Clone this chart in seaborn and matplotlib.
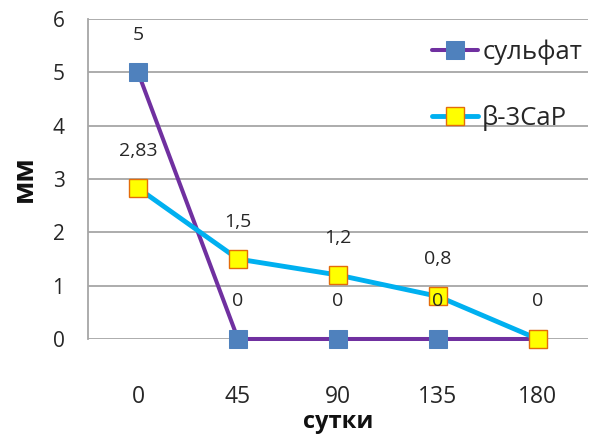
import matplotlib
matplotlib.use("Agg")
import matplotlib.pyplot as plt
import seaborn as sns
import pandas as pd

days = ["0", "45", "90", "135", "180"]
sulfate = [5, 0, 0, 0, 0]
tcp = [2.83, 1.5, 1.2, 0.8, 0]
sulfate_labels = ["5", "0", "0", "0", "0"]
tcp_labels = ["2,83", "1,5", "1,2", "0,8", ""]
series_names = ["сульфат", "β-3CaP"]
yticks = [0, 1, 2, 3, 4, 5, 6]

sns.set_theme(style="white")
plt.rcParams['font.family'] = ['Open Sans', 'DejaVu Sans']

fig = plt.figure(figsize=(5.95, 4.36), dpi=100)
ax = fig.add_axes([0.148, 0.2225, 0.84, 0.7335])

df = pd.DataFrame({"day": days, "sulfate": sulfate, "tcp": tcp})

sns.lineplot(data=df, x="day", y="sulfate", ax=ax, color="#7030A0", linewidth=2.9,
             marker="s", markersize=12.5, markerfacecolor="#4F81BD",
             markeredgecolor="#4F81BD", label=series_names[0], zorder=3)
sns.lineplot(data=df, x="day", y="tcp", ax=ax, color="#00B0F0", linewidth=3.5,
             marker="s", markersize=12.5, markerfacecolor="#FFFF00",
             markeredgecolor="#E46C0A", markeredgewidth=1, label=series_names[1], zorder=4)
for ln in ax.lines:
    ln.set_clip_on(False)

for i, (v, t) in enumerate(zip(sulfate, sulfate_labels)):
    if t:
        ax.annotate(t, (i, v), xytext=(0, 27), textcoords="offset points",
                    ha="center", va="center", fontsize=14, color="#262626", zorder=6)
for i, (v, t) in enumerate(zip(tcp, tcp_labels)):
    if t:
        ax.annotate(t, (i, v), xytext=(0, 27), textcoords="offset points",
                    ha="center", va="center", fontsize=14, color="#262626", zorder=6)

ax.set_xlim(-0.5, 4.5)
ax.set_ylim(0, 6)
ax.set_yticks(yticks)
ax.set_yticklabels([str(y) for y in yticks])
ax.yaxis.grid(True, color="#A6A6A6", linewidth=1.3)
ax.set_axisbelow(True)
for s in ["top", "right", "bottom"]:
    ax.spines[s].set_visible(False)
ax.spines["left"].set_color("#A6A6A6")
ax.spines["left"].set_linewidth(1.3)
ax.tick_params(axis="y", length=0, pad=17, labelsize=15, labelcolor="#262626")
ax.tick_params(axis="x", length=0, pad=33, labelsize=16.5, labelcolor="#262626")

ax.set_xlabel("сутки", fontsize=17, fontweight="bold", labelpad=1, color="#111111")
ax.set_ylabel("мм", fontsize=20, fontweight="bold", labelpad=10, color="#111111")

ax.legend(loc="upper left", bbox_to_anchor=(0.709, 0.932), bbox_transform=fig.transFigure,
          frameon=False, fontsize=18.5, labelspacing=1.55, handlelength=1.8,
          handletextpad=0.15, borderaxespad=0)

fig.savefig("out.png", dpi=100)
